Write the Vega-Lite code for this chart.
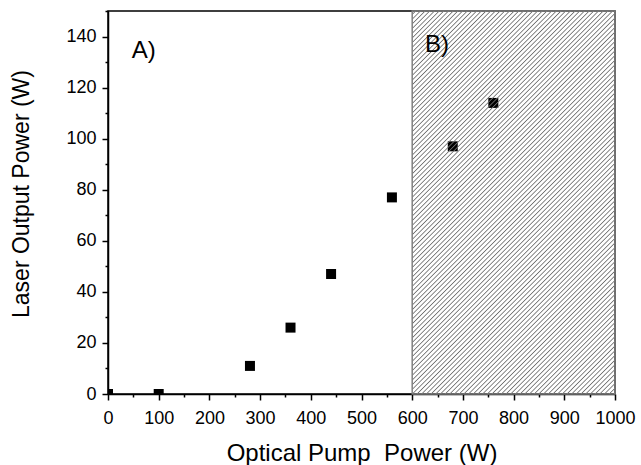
{
  "$schema": "https://vega.github.io/schema/vega-lite/v6.json",
  "width": 507,
  "height": 383,
  "autosize": {"type": "none"},
  "padding": {"left": 108, "top": 11, "right": 26, "bottom": 71},
  "background": "white",
  "config": {
    "font": "Liberation Sans",
    "view": {"stroke": "#000", "strokeWidth": 1.5},
    "axis": {
      "grid": false,
      "domainColor": "#000",
      "domainWidth": 1.5,
      "tickColor": "#000",
      "tickWidth": 1.5,
      "labelColor": "#000",
      "titleColor": "#000",
      "labelFont": "Liberation Sans",
      "titleFont": "Liberation Sans",
      "labelFontSize": 18,
      "titleFontSize": 24,
      "titleFontWeight": "normal",
      "labelFlush": false,
      "labelOverlap": false
    }
  },
  "resolve": {"axis": {"x": "independent", "y": "independent"}},
  "layer": [
    {
      "data": {"values": [
        {"pump": 0, "output": 0},
        {"pump": 100, "output": 0},
        {"pump": 280, "output": 11},
        {"pump": 360, "output": 26},
        {"pump": 440, "output": 47},
        {"pump": 560, "output": 77},
        {"pump": 680, "output": 97},
        {"pump": 760, "output": 114}
      ]},
      "mark": {"type": "square", "size": 100, "filled": true, "color": "#000", "opacity": 1, "clip": true},
      "encoding": {
        "x": {"field": "pump", "type": "quantitative",
          "scale": {"domain": [0, 1000], "nice": false, "zero": false},
          "axis": {"orient": "bottom", "title": "Optical Pump\u00a0\u00a0Power (W)", "values": [0,100,200,300,400,500,600,700,800,900,1000],
            "format": "d",
            "tickSize": 6, "labelBaseline": "alphabetic", "labelPadding": 23.5,
            "titleBaseline": "alphabetic", "titleY": 66}},
        "y": {"field": "output", "type": "quantitative",
          "scale": {"domain": [0, 150], "nice": false, "zero": false},
          "axis": {"orient": "left", "title": "Laser Output Power (W)", "values": [0,20,40,60,80,100,120,140],
            "format": "d",
            "tickSize": 6, "labelPadding": 6, "labelBaseline": "middle", "titleFontSize": 23,
            "titleBaseline": "alphabetic", "titleX": -80, "titleY": 182.5, "titleAngle": -90}}
      }
    },
    {
      "data": {"values": [{"x0": 600, "x1": 1000, "y0": 0, "y1": 150, "region": "B"}]},
      "mark": {"type": "rect", "stroke": "#808080", "strokeWidth": 1.5,
        "fill": {"gradient": "linear", "x1": 0, "y1": 0, "x2": 0.6325, "y2": 1.1946, "stops": [
{"offset":0,"color":"rgba(112,112,112,0)"},{"offset":0.004,"color":"rgba(112,112,112,0)"},{"offset":0.006,"color":"#707070"},
{"offset":0.008,"color":"rgba(112,112,112,0)"},{"offset":0.012,"color":"rgba(112,112,112,0)"},{"offset":0.014,"color":"#707070"},
{"offset":0.016,"color":"rgba(112,112,112,0)"},{"offset":0.02,"color":"rgba(112,112,112,0)"},{"offset":0.022,"color":"#707070"},
{"offset":0.024,"color":"rgba(112,112,112,0)"},{"offset":0.028,"color":"rgba(112,112,112,0)"},{"offset":0.03,"color":"#707070"},
{"offset":0.032,"color":"rgba(112,112,112,0)"},{"offset":0.036,"color":"rgba(112,112,112,0)"},{"offset":0.038,"color":"#707070"},
{"offset":0.04,"color":"rgba(112,112,112,0)"},{"offset":0.044,"color":"rgba(112,112,112,0)"},{"offset":0.046,"color":"#707070"},
{"offset":0.048,"color":"rgba(112,112,112,0)"},{"offset":0.052,"color":"rgba(112,112,112,0)"},{"offset":0.054,"color":"#707070"},
{"offset":0.056,"color":"rgba(112,112,112,0)"},{"offset":0.06,"color":"rgba(112,112,112,0)"},{"offset":0.062,"color":"#707070"},
{"offset":0.064,"color":"rgba(112,112,112,0)"},{"offset":0.068,"color":"rgba(112,112,112,0)"},{"offset":0.07,"color":"#707070"},
{"offset":0.072,"color":"rgba(112,112,112,0)"},{"offset":0.076,"color":"rgba(112,112,112,0)"},{"offset":0.078,"color":"#707070"},
{"offset":0.08,"color":"rgba(112,112,112,0)"},{"offset":0.084,"color":"rgba(112,112,112,0)"},{"offset":0.086,"color":"#707070"},
{"offset":0.088,"color":"rgba(112,112,112,0)"},{"offset":0.092,"color":"rgba(112,112,112,0)"},{"offset":0.094,"color":"#707070"},
{"offset":0.096,"color":"rgba(112,112,112,0)"},{"offset":0.1,"color":"rgba(112,112,112,0)"},{"offset":0.102,"color":"#707070"},
{"offset":0.104,"color":"rgba(112,112,112,0)"},{"offset":0.108,"color":"rgba(112,112,112,0)"},{"offset":0.11,"color":"#707070"},
{"offset":0.112,"color":"rgba(112,112,112,0)"},{"offset":0.116,"color":"rgba(112,112,112,0)"},{"offset":0.118,"color":"#707070"},
{"offset":0.12,"color":"rgba(112,112,112,0)"},{"offset":0.124,"color":"rgba(112,112,112,0)"},{"offset":0.126,"color":"#707070"},
{"offset":0.128,"color":"rgba(112,112,112,0)"},{"offset":0.132,"color":"rgba(112,112,112,0)"},{"offset":0.134,"color":"#707070"},
{"offset":0.136,"color":"rgba(112,112,112,0)"},{"offset":0.14,"color":"rgba(112,112,112,0)"},{"offset":0.142,"color":"#707070"},
{"offset":0.144,"color":"rgba(112,112,112,0)"},{"offset":0.148,"color":"rgba(112,112,112,0)"},{"offset":0.15,"color":"#707070"},
{"offset":0.152,"color":"rgba(112,112,112,0)"},{"offset":0.156,"color":"rgba(112,112,112,0)"},{"offset":0.158,"color":"#707070"},
{"offset":0.16,"color":"rgba(112,112,112,0)"},{"offset":0.164,"color":"rgba(112,112,112,0)"},{"offset":0.166,"color":"#707070"},
{"offset":0.168,"color":"rgba(112,112,112,0)"},{"offset":0.172,"color":"rgba(112,112,112,0)"},{"offset":0.174,"color":"#707070"},
{"offset":0.176,"color":"rgba(112,112,112,0)"},{"offset":0.18,"color":"rgba(112,112,112,0)"},{"offset":0.182,"color":"#707070"},
{"offset":0.184,"color":"rgba(112,112,112,0)"},{"offset":0.188,"color":"rgba(112,112,112,0)"},{"offset":0.19,"color":"#707070"},
{"offset":0.192,"color":"rgba(112,112,112,0)"},{"offset":0.196,"color":"rgba(112,112,112,0)"},{"offset":0.198,"color":"#707070"},
{"offset":0.2,"color":"rgba(112,112,112,0)"},{"offset":0.204,"color":"rgba(112,112,112,0)"},{"offset":0.206,"color":"#707070"},
{"offset":0.208,"color":"rgba(112,112,112,0)"},{"offset":0.212,"color":"rgba(112,112,112,0)"},{"offset":0.214,"color":"#707070"},
{"offset":0.216,"color":"rgba(112,112,112,0)"},{"offset":0.22,"color":"rgba(112,112,112,0)"},{"offset":0.222,"color":"#707070"},
{"offset":0.224,"color":"rgba(112,112,112,0)"},{"offset":0.228,"color":"rgba(112,112,112,0)"},{"offset":0.23,"color":"#707070"},
{"offset":0.232,"color":"rgba(112,112,112,0)"},{"offset":0.236,"color":"rgba(112,112,112,0)"},{"offset":0.238,"color":"#707070"},
{"offset":0.24,"color":"rgba(112,112,112,0)"},{"offset":0.244,"color":"rgba(112,112,112,0)"},{"offset":0.246,"color":"#707070"},
{"offset":0.248,"color":"rgba(112,112,112,0)"},{"offset":0.252,"color":"rgba(112,112,112,0)"},{"offset":0.254,"color":"#707070"},
{"offset":0.256,"color":"rgba(112,112,112,0)"},{"offset":0.26,"color":"rgba(112,112,112,0)"},{"offset":0.262,"color":"#707070"},
{"offset":0.264,"color":"rgba(112,112,112,0)"},{"offset":0.268,"color":"rgba(112,112,112,0)"},{"offset":0.27,"color":"#707070"},
{"offset":0.272,"color":"rgba(112,112,112,0)"},{"offset":0.276,"color":"rgba(112,112,112,0)"},{"offset":0.278,"color":"#707070"},
{"offset":0.28,"color":"rgba(112,112,112,0)"},{"offset":0.284,"color":"rgba(112,112,112,0)"},{"offset":0.286,"color":"#707070"},
{"offset":0.288,"color":"rgba(112,112,112,0)"},{"offset":0.292,"color":"rgba(112,112,112,0)"},{"offset":0.294,"color":"#707070"},
{"offset":0.296,"color":"rgba(112,112,112,0)"},{"offset":0.3,"color":"rgba(112,112,112,0)"},{"offset":0.302,"color":"#707070"},
{"offset":0.304,"color":"rgba(112,112,112,0)"},{"offset":0.308,"color":"rgba(112,112,112,0)"},{"offset":0.31,"color":"#707070"},
{"offset":0.312,"color":"rgba(112,112,112,0)"},{"offset":0.316,"color":"rgba(112,112,112,0)"},{"offset":0.318,"color":"#707070"},
{"offset":0.32,"color":"rgba(112,112,112,0)"},{"offset":0.324,"color":"rgba(112,112,112,0)"},{"offset":0.326,"color":"#707070"},
{"offset":0.328,"color":"rgba(112,112,112,0)"},{"offset":0.332,"color":"rgba(112,112,112,0)"},{"offset":0.334,"color":"#707070"},
{"offset":0.336,"color":"rgba(112,112,112,0)"},{"offset":0.34,"color":"rgba(112,112,112,0)"},{"offset":0.342,"color":"#707070"},
{"offset":0.344,"color":"rgba(112,112,112,0)"},{"offset":0.348,"color":"rgba(112,112,112,0)"},{"offset":0.35,"color":"#707070"},
{"offset":0.352,"color":"rgba(112,112,112,0)"},{"offset":0.356,"color":"rgba(112,112,112,0)"},{"offset":0.358,"color":"#707070"},
{"offset":0.36,"color":"rgba(112,112,112,0)"},{"offset":0.364,"color":"rgba(112,112,112,0)"},{"offset":0.366,"color":"#707070"},
{"offset":0.368,"color":"rgba(112,112,112,0)"},{"offset":0.372,"color":"rgba(112,112,112,0)"},{"offset":0.374,"color":"#707070"},
{"offset":0.376,"color":"rgba(112,112,112,0)"},{"offset":0.38,"color":"rgba(112,112,112,0)"},{"offset":0.382,"color":"#707070"},
{"offset":0.384,"color":"rgba(112,112,112,0)"},{"offset":0.388,"color":"rgba(112,112,112,0)"},{"offset":0.39,"color":"#707070"},
{"offset":0.392,"color":"rgba(112,112,112,0)"},{"offset":0.396,"color":"rgba(112,112,112,0)"},{"offset":0.398,"color":"#707070"},
{"offset":0.4,"color":"rgba(112,112,112,0)"},{"offset":0.404,"color":"rgba(112,112,112,0)"},{"offset":0.406,"color":"#707070"},
{"offset":0.408,"color":"rgba(112,112,112,0)"},{"offset":0.412,"color":"rgba(112,112,112,0)"},{"offset":0.414,"color":"#707070"},
{"offset":0.416,"color":"rgba(112,112,112,0)"},{"offset":0.42,"color":"rgba(112,112,112,0)"},{"offset":0.422,"color":"#707070"},
{"offset":0.424,"color":"rgba(112,112,112,0)"},{"offset":0.428,"color":"rgba(112,112,112,0)"},{"offset":0.43,"color":"#707070"},
{"offset":0.432,"color":"rgba(112,112,112,0)"},{"offset":0.436,"color":"rgba(112,112,112,0)"},{"offset":0.438,"color":"#707070"},
{"offset":0.44,"color":"rgba(112,112,112,0)"},{"offset":0.444,"color":"rgba(112,112,112,0)"},{"offset":0.446,"color":"#707070"},
{"offset":0.448,"color":"rgba(112,112,112,0)"},{"offset":0.452,"color":"rgba(112,112,112,0)"},{"offset":0.454,"color":"#707070"},
{"offset":0.456,"color":"rgba(112,112,112,0)"},{"offset":0.46,"color":"rgba(112,112,112,0)"},{"offset":0.462,"color":"#707070"},
{"offset":0.464,"color":"rgba(112,112,112,0)"},{"offset":0.468,"color":"rgba(112,112,112,0)"},{"offset":0.47,"color":"#707070"},
{"offset":0.472,"color":"rgba(112,112,112,0)"},{"offset":0.476,"color":"rgba(112,112,112,0)"},{"offset":0.478,"color":"#707070"},
{"offset":0.48,"color":"rgba(112,112,112,0)"},{"offset":0.484,"color":"rgba(112,112,112,0)"},{"offset":0.486,"color":"#707070"},
{"offset":0.488,"color":"rgba(112,112,112,0)"},{"offset":0.492,"color":"rgba(112,112,112,0)"},{"offset":0.494,"color":"#707070"},
{"offset":0.496,"color":"rgba(112,112,112,0)"},{"offset":0.5,"color":"rgba(112,112,112,0)"},{"offset":0.502,"color":"#707070"},
{"offset":0.504,"color":"rgba(112,112,112,0)"},{"offset":0.508,"color":"rgba(112,112,112,0)"},{"offset":0.51,"color":"#707070"},
{"offset":0.512,"color":"rgba(112,112,112,0)"},{"offset":0.516,"color":"rgba(112,112,112,0)"},{"offset":0.518,"color":"#707070"},
{"offset":0.52,"color":"rgba(112,112,112,0)"},{"offset":0.524,"color":"rgba(112,112,112,0)"},{"offset":0.526,"color":"#707070"},
{"offset":0.528,"color":"rgba(112,112,112,0)"},{"offset":0.532,"color":"rgba(112,112,112,0)"},{"offset":0.534,"color":"#707070"},
{"offset":0.536,"color":"rgba(112,112,112,0)"},{"offset":0.54,"color":"rgba(112,112,112,0)"},{"offset":0.542,"color":"#707070"},
{"offset":0.544,"color":"rgba(112,112,112,0)"},{"offset":0.548,"color":"rgba(112,112,112,0)"},{"offset":0.55,"color":"#707070"},
{"offset":0.552,"color":"rgba(112,112,112,0)"},{"offset":0.556,"color":"rgba(112,112,112,0)"},{"offset":0.558,"color":"#707070"},
{"offset":0.56,"color":"rgba(112,112,112,0)"},{"offset":0.564,"color":"rgba(112,112,112,0)"},{"offset":0.566,"color":"#707070"},
{"offset":0.568,"color":"rgba(112,112,112,0)"},{"offset":0.572,"color":"rgba(112,112,112,0)"},{"offset":0.574,"color":"#707070"},
{"offset":0.576,"color":"rgba(112,112,112,0)"},{"offset":0.58,"color":"rgba(112,112,112,0)"},{"offset":0.582,"color":"#707070"},
{"offset":0.584,"color":"rgba(112,112,112,0)"},{"offset":0.588,"color":"rgba(112,112,112,0)"},{"offset":0.59,"color":"#707070"},
{"offset":0.592,"color":"rgba(112,112,112,0)"},{"offset":0.596,"color":"rgba(112,112,112,0)"},{"offset":0.598,"color":"#707070"},
{"offset":0.6,"color":"rgba(112,112,112,0)"},{"offset":0.604,"color":"rgba(112,112,112,0)"},{"offset":0.606,"color":"#707070"},
{"offset":0.608,"color":"rgba(112,112,112,0)"},{"offset":0.612,"color":"rgba(112,112,112,0)"},{"offset":0.614,"color":"#707070"},
{"offset":0.616,"color":"rgba(112,112,112,0)"},{"offset":0.62,"color":"rgba(112,112,112,0)"},{"offset":0.622,"color":"#707070"},
{"offset":0.624,"color":"rgba(112,112,112,0)"},{"offset":0.628,"color":"rgba(112,112,112,0)"},{"offset":0.63,"color":"#707070"},
{"offset":0.632,"color":"rgba(112,112,112,0)"},{"offset":0.636,"color":"rgba(112,112,112,0)"},{"offset":0.638,"color":"#707070"},
{"offset":0.64,"color":"rgba(112,112,112,0)"},{"offset":0.644,"color":"rgba(112,112,112,0)"},{"offset":0.646,"color":"#707070"},
{"offset":0.648,"color":"rgba(112,112,112,0)"},{"offset":0.652,"color":"rgba(112,112,112,0)"},{"offset":0.654,"color":"#707070"},
{"offset":0.656,"color":"rgba(112,112,112,0)"},{"offset":0.66,"color":"rgba(112,112,112,0)"},{"offset":0.662,"color":"#707070"},
{"offset":0.664,"color":"rgba(112,112,112,0)"},{"offset":0.668,"color":"rgba(112,112,112,0)"},{"offset":0.67,"color":"#707070"},
{"offset":0.672,"color":"rgba(112,112,112,0)"},{"offset":0.676,"color":"rgba(112,112,112,0)"},{"offset":0.678,"color":"#707070"},
{"offset":0.68,"color":"rgba(112,112,112,0)"},{"offset":0.684,"color":"rgba(112,112,112,0)"},{"offset":0.686,"color":"#707070"},
{"offset":0.688,"color":"rgba(112,112,112,0)"},{"offset":0.692,"color":"rgba(112,112,112,0)"},{"offset":0.694,"color":"#707070"},
{"offset":0.696,"color":"rgba(112,112,112,0)"},{"offset":0.7,"color":"rgba(112,112,112,0)"},{"offset":0.702,"color":"#707070"},
{"offset":0.704,"color":"rgba(112,112,112,0)"},{"offset":0.708,"color":"rgba(112,112,112,0)"},{"offset":0.71,"color":"#707070"},
{"offset":0.712,"color":"rgba(112,112,112,0)"},{"offset":0.716,"color":"rgba(112,112,112,0)"},{"offset":0.718,"color":"#707070"},
{"offset":0.72,"color":"rgba(112,112,112,0)"},{"offset":0.724,"color":"rgba(112,112,112,0)"},{"offset":0.726,"color":"#707070"},
{"offset":0.728,"color":"rgba(112,112,112,0)"},{"offset":0.732,"color":"rgba(112,112,112,0)"},{"offset":0.734,"color":"#707070"},
{"offset":0.736,"color":"rgba(112,112,112,0)"},{"offset":0.74,"color":"rgba(112,112,112,0)"},{"offset":0.742,"color":"#707070"},
{"offset":0.744,"color":"rgba(112,112,112,0)"},{"offset":0.748,"color":"rgba(112,112,112,0)"},{"offset":0.75,"color":"#707070"},
{"offset":0.752,"color":"rgba(112,112,112,0)"},{"offset":0.756,"color":"rgba(112,112,112,0)"},{"offset":0.758,"color":"#707070"},
{"offset":0.76,"color":"rgba(112,112,112,0)"},{"offset":0.764,"color":"rgba(112,112,112,0)"},{"offset":0.766,"color":"#707070"},
{"offset":0.768,"color":"rgba(112,112,112,0)"},{"offset":0.772,"color":"rgba(112,112,112,0)"},{"offset":0.774,"color":"#707070"},
{"offset":0.776,"color":"rgba(112,112,112,0)"},{"offset":0.78,"color":"rgba(112,112,112,0)"},{"offset":0.782,"color":"#707070"},
{"offset":0.784,"color":"rgba(112,112,112,0)"},{"offset":0.788,"color":"rgba(112,112,112,0)"},{"offset":0.79,"color":"#707070"},
{"offset":0.792,"color":"rgba(112,112,112,0)"},{"offset":0.796,"color":"rgba(112,112,112,0)"},{"offset":0.798,"color":"#707070"},
{"offset":0.8,"color":"rgba(112,112,112,0)"},{"offset":0.804,"color":"rgba(112,112,112,0)"},{"offset":0.806,"color":"#707070"},
{"offset":0.808,"color":"rgba(112,112,112,0)"},{"offset":0.812,"color":"rgba(112,112,112,0)"},{"offset":0.814,"color":"#707070"},
{"offset":0.816,"color":"rgba(112,112,112,0)"},{"offset":0.82,"color":"rgba(112,112,112,0)"},{"offset":0.822,"color":"#707070"},
{"offset":0.824,"color":"rgba(112,112,112,0)"},{"offset":0.828,"color":"rgba(112,112,112,0)"},{"offset":0.83,"color":"#707070"},
{"offset":0.832,"color":"rgba(112,112,112,0)"},{"offset":0.836,"color":"rgba(112,112,112,0)"},{"offset":0.838,"color":"#707070"},
{"offset":0.84,"color":"rgba(112,112,112,0)"},{"offset":0.844,"color":"rgba(112,112,112,0)"},{"offset":0.846,"color":"#707070"},
{"offset":0.848,"color":"rgba(112,112,112,0)"},{"offset":0.852,"color":"rgba(112,112,112,0)"},{"offset":0.854,"color":"#707070"},
{"offset":0.856,"color":"rgba(112,112,112,0)"},{"offset":0.86,"color":"rgba(112,112,112,0)"},{"offset":0.862,"color":"#707070"},
{"offset":0.864,"color":"rgba(112,112,112,0)"},{"offset":0.868,"color":"rgba(112,112,112,0)"},{"offset":0.87,"color":"#707070"},
{"offset":0.872,"color":"rgba(112,112,112,0)"},{"offset":0.876,"color":"rgba(112,112,112,0)"},{"offset":0.878,"color":"#707070"},
{"offset":0.88,"color":"rgba(112,112,112,0)"},{"offset":0.884,"color":"rgba(112,112,112,0)"},{"offset":0.886,"color":"#707070"},
{"offset":0.888,"color":"rgba(112,112,112,0)"},{"offset":0.892,"color":"rgba(112,112,112,0)"},{"offset":0.894,"color":"#707070"},
{"offset":0.896,"color":"rgba(112,112,112,0)"},{"offset":0.9,"color":"rgba(112,112,112,0)"},{"offset":0.902,"color":"#707070"},
{"offset":0.904,"color":"rgba(112,112,112,0)"},{"offset":0.908,"color":"rgba(112,112,112,0)"},{"offset":0.91,"color":"#707070"},
{"offset":0.912,"color":"rgba(112,112,112,0)"},{"offset":0.916,"color":"rgba(112,112,112,0)"},{"offset":0.918,"color":"#707070"},
{"offset":0.92,"color":"rgba(112,112,112,0)"},{"offset":0.924,"color":"rgba(112,112,112,0)"},{"offset":0.926,"color":"#707070"},
{"offset":0.928,"color":"rgba(112,112,112,0)"},{"offset":0.932,"color":"rgba(112,112,112,0)"},{"offset":0.934,"color":"#707070"},
{"offset":0.936,"color":"rgba(112,112,112,0)"},{"offset":0.94,"color":"rgba(112,112,112,0)"},{"offset":0.942,"color":"#707070"},
{"offset":0.944,"color":"rgba(112,112,112,0)"},{"offset":0.948,"color":"rgba(112,112,112,0)"},{"offset":0.95,"color":"#707070"},
{"offset":0.952,"color":"rgba(112,112,112,0)"},{"offset":0.956,"color":"rgba(112,112,112,0)"},{"offset":0.958,"color":"#707070"},
{"offset":0.96,"color":"rgba(112,112,112,0)"},{"offset":0.964,"color":"rgba(112,112,112,0)"},{"offset":0.966,"color":"#707070"},
{"offset":0.968,"color":"rgba(112,112,112,0)"},{"offset":0.972,"color":"rgba(112,112,112,0)"},{"offset":0.974,"color":"#707070"},
{"offset":0.976,"color":"rgba(112,112,112,0)"},{"offset":0.98,"color":"rgba(112,112,112,0)"},{"offset":0.982,"color":"#707070"},
{"offset":0.984,"color":"rgba(112,112,112,0)"},{"offset":0.988,"color":"rgba(112,112,112,0)"},{"offset":0.99,"color":"#707070"},
{"offset":0.992,"color":"rgba(112,112,112,0)"},{"offset":0.996,"color":"rgba(112,112,112,0)"},{"offset":0.998,"color":"#707070"},
{"offset":1,"color":"rgba(112,112,112,0)"}
        ]}},
      "encoding": {
        "x": {"field": "x0", "type": "quantitative",
          "axis": {"orient": "bottom", "title": null, "labels": false, "domain": false, "tickSize": 3,
            "values": [50,150,250,350,450,550,650,750,850,950]}},
        "x2": {"field": "x1"},
        "y": {"field": "y0", "type": "quantitative",
          "axis": {"orient": "left", "title": null, "labels": false, "domain": false, "tickSize": 3,
            "values": [10,30,50,70,90,110,130,150]}},
        "y2": {"field": "y1"}
      }
    },
    {
      "data": {"values": [
        {"label": "A)", "px": 47, "py": 131.5},
        {"label": "B)", "px": 625, "py": 134}
      ]},
      "mark": {"type": "text", "fontSize": 24, "font": "Liberation Sans", "align": "left", "baseline": "alphabetic", "color": "#000"},
      "encoding": {
        "x": {"field": "px", "type": "quantitative", "axis": null},
        "y": {"field": "py", "type": "quantitative", "axis": null},
        "text": {"field": "label"}
      }
    }
  ]
}
